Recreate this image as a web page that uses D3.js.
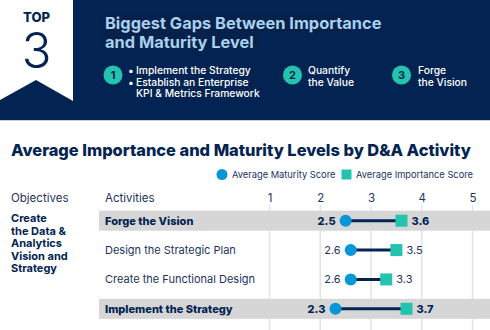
<!DOCTYPE html>
<html><head><meta charset="utf-8">
<script src="https://cdn.jsdelivr.net/npm/d3@7"></script>
<style>html,body{margin:0;padding:0;background:#fff;}svg{display:block;font-family:Inter,"Noto Sans",sans-serif;}</style>
</head><body>
<script>
const activities = ["Forge the Vision","Design the Strategic Plan","Create the Functional Design","Implement the Strategy"];
const highlighted = [true,false,false,true];
const maturity = [2.5,2.6,2.6,2.3];
const importance = [3.6,3.5,3.3,3.7];
const ticks = [1,2,3,4,5];
const objectiveLines = ["Create","the Data &","Analytics","Vision and","Strategy"];
const titleLines = ["Biggest Gaps Between Importance","and Maturity Level"];
const topItems = [
  {n:"1", bullets:[true,true,false], lines:["Implement the Strategy","Establish an Enterprise","KPI & Metrics Framework"]},
  {n:"2", bullets:[false,false], lines:["Quantify","the Value"]},
  {n:"3", bullets:[false,false], lines:["Forge","the Vision"]}
];

const W=490,H=330;
const navy="#032452", teal="#22c4ad", blue="#0797d8", txt="#1c3461";
const svg=d3.select("body").append("svg").attr("width",W).attr("height",H);

// Header
svg.append("rect").attr("x",0).attr("y",0).attr("width",W).attr("height",120).attr("fill",navy);
svg.append("line").attr("x1",0).attr("x2",W).attr("y1",120.5).attr("y2",120.5).attr("stroke","#c9ced8");
svg.append("path").attr("d","M0,0H73V101L36,80L0,100Z").attr("fill","#fff");
svg.append("text").attr("x",36.5).attr("y",21.5).attr("text-anchor","middle").attr("fill",navy)
  .attr("font-weight",800).attr("font-size",13).text("TOP");
svg.append("text").attr("x",36.5).attr("y",68).attr("text-anchor","middle").attr("fill",navy)
  .attr("font-weight",300).attr("font-size",49).text("3");
svg.append("rect").attr("x",102).attr("y",14).attr("width",246).attr("height",19).attr("fill","#07224a");
svg.append("rect").attr("x",102).attr("y",33).attr("width",158).attr("height",16).attr("fill","#07224a");
titleLines.forEach((t,i)=>svg.append("text").attr("x",105).attr("y",29+i*18.5).attr("fill","#a9d0ec")
  .attr("font-weight",700).attr("font-size",16.4).text(t));
const itemX=[[113,128],[292.5,308],[401.5,418]];
topItems.forEach((it,i)=>{
  svg.append("circle").attr("cx",itemX[i][0]).attr("cy",75).attr("r",9.5).attr("fill",teal);
  svg.append("text").attr("x",itemX[i][0]).attr("y",79).attr("text-anchor","middle").attr("fill",navy)
    .attr("font-weight",700).attr("font-size",11).text(it.n);
  it.lines.forEach((l,j)=>{
    const bx=itemX[i][1];
    const tx = i===0 ? bx+8 : bx;
    if(it.bullets[j]) svg.append("text").attr("x",bx).attr("y",74+j*11.7).attr("fill","#fff")
      .attr("font-size",10.3).text("\u2022");
    svg.append("text").attr("x",tx).attr("y",74+j*11.7)
      .attr("fill","#fff").attr("font-weight",500).attr("font-size",10.3).text(l);
  });
});

// Section title
svg.append("text").attr("x",11).attr("y",156).attr("fill",navy).attr("font-weight",800)
  .attr("font-size",16.4).text("Average Importance and Maturity Levels by D&A Activity");

// Legend
svg.append("circle").attr("cx",222).attr("cy",174.5).attr("r",5.5).attr("fill",blue);
svg.append("text").attr("x",232).attr("y",178).attr("fill",txt).attr("font-size",9.3).text("Average Maturity Score");
svg.append("rect").attr("x",341.5).attr("y",169.5).attr("width",10).attr("height",10).attr("fill",teal);
svg.append("text").attr("x",356).attr("y",178).attr("fill",txt).attr("font-size",9.3).text("Average Importance Score");

// Scales
const x=d3.scaleLinear().domain([1,5]).range([269.5,472.5]);
const y=d3.scaleBand().domain(activities).range([206,323.5]).paddingInner(0.32).paddingOuter(0.16);

// Column headers
svg.append("text").attr("x",11).attr("y",202).attr("fill",txt).attr("font-size",11.5).text("Objectives");
svg.append("text").attr("x",105).attr("y",202).attr("fill",txt).attr("font-size",11.5).text("Activities");

// Axis
const ax=svg.append("g").attr("transform","translate(0,202)")
  .call(d3.axisTop(x).tickValues(ticks).tickSize(0).tickPadding(0).tickFormat(d3.format("d")));
ax.select(".domain").remove();
ax.selectAll("text").attr("fill",txt).attr("font-size",11.5).attr("font-family","Inter,'Noto Sans',sans-serif")
  .attr("dy",0);
// gridlines
svg.append("g").selectAll("line").data(ticks).join("line")
  .attr("x1",d=>x(d)).attr("x2",d=>x(d)).attr("y1",205).attr("y2",H)
  .attr("stroke","#e2e4e8").attr("stroke-width",1.5);

// bands
const rowC=d=>y(d)+y.bandwidth()/2;
svg.append("g").selectAll("rect").data(activities.filter((d,i)=>highlighted[i])).join("rect")
  .attr("x",99).attr("y",d=>rowC(d)-10).attr("width",W-99).attr("height",20).attr("fill","#d6d6d6");

// objective
objectiveLines.forEach((l,i)=>svg.append("text").attr("x",11).attr("y",222+i*12.5).attr("fill",navy)
  .attr("font-weight",700).attr("font-size",11).text(l));

// activity labels
svg.append("g").selectAll("text").data(activities).join("text")
  .attr("x",105).attr("y",d=>rowC(d)+4).attr("fill",(d,i)=>highlighted[i]?navy:txt)
  .attr("font-weight",(d,i)=>highlighted[i]?800:400).attr("font-size",11).text(d=>d);

// dumbbells
const g=svg.append("g");
activities.forEach((a,i)=>{
  const cy=rowC(a), bold=highlighted[i];
  g.append("line").attr("x1",x(maturity[i])).attr("x2",x(importance[i])).attr("y1",cy).attr("y2",cy)
    .attr("stroke",navy).attr("stroke-width",3);
  g.append("circle").attr("cx",x(maturity[i])).attr("cy",cy).attr("r",6).attr("fill",blue);
  g.append("rect").attr("x",x(importance[i])-6).attr("y",cy-6).attr("width",12).attr("height",12).attr("fill",teal);
  g.append("text").attr("x",x(maturity[i])-10).attr("y",cy+4).attr("text-anchor","end")
    .attr("fill",bold?navy:txt).attr("font-weight",bold?800:400).attr("font-size",11).text(maturity[i].toFixed(1));
  g.append("text").attr("x",x(importance[i])+10).attr("y",cy+4)
    .attr("fill",bold?navy:txt).attr("font-weight",bold?800:400).attr("font-size",11).text(importance[i].toFixed(1));
});
</script>
</body></html>
